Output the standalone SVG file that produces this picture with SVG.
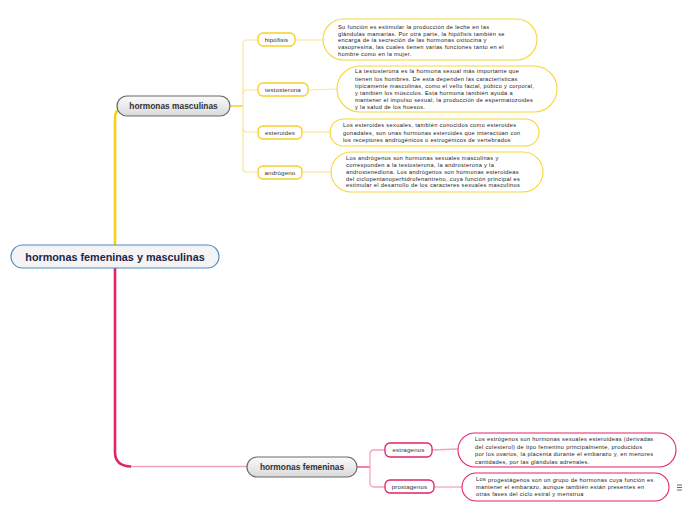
<svg xmlns="http://www.w3.org/2000/svg" width="696" height="520" viewBox="0 0 696 520">
<defs>
<linearGradient id="mainGrad" x1="0" y1="0" x2="0" y2="1">
<stop offset="0" stop-color="#fbfbfb"/>
<stop offset="1" stop-color="#d9d9d9"/>
</linearGradient>
</defs>
<style>
text{font-family:"Liberation Sans",Arial,sans-serif;}
.root{fill:#f5f3f3;stroke:#4a8ecb;stroke-width:1.2;}
.rootT{font-size:10.8px;font-weight:bold;fill:#1b2648;}
.main{fill:url(#mainGrad);stroke:#6a6a6a;stroke-width:1.2;}
.mainT{font-size:8.4px;font-weight:bold;fill:#333;}
.subY{fill:#fff;stroke:#f5d024;stroke-width:1.3;}
.subP{fill:#fff;stroke:#e2236b;stroke-width:1.3;}
.subT{font-size:6.2px;fill:#333;letter-spacing:0.15px;}
.descY{fill:#fff;stroke:#f7d638;stroke-width:1.1;}
.descP{fill:#fff;stroke:#e2236b;stroke-width:1.1;}
.descT{font-size:5.7px;fill:#222;letter-spacing:0.32px;}
.lnY{fill:none;stroke:#f7d117;stroke-width:2.6;}
.lnYs{fill:none;stroke:#f5cf2a;stroke-width:1.5;}
.lnYl{fill:none;stroke:#fbe49a;stroke-width:1.2;}
.lnP{fill:none;stroke:#e2236b;stroke-width:2.6;}
.lnPl{fill:none;stroke:#f4a3be;stroke-width:1.3;}
.lnPs{fill:none;stroke:#e8588c;stroke-width:1.5;}
</style>
<g id="connectors">
<path class="lnY" d="M115,245 V118 Q115,110 122,108"/>
<path class="lnP" d="M115,268 V452 Q115,466 131,466.5"/>
<path class="lnPl" d="M131,466.5 H247"/>
<path class="lnYs" d="M230,106 H243"/>
<path class="lnYl" d="M258,40 H247 Q243,40 243,44 V168 Q243,172 247,172 H258"/>
<path class="lnYl" d="M243,94 Q243,90 247,90 H258"/>
<path class="lnYl" d="M243,128 Q243,132 247,132 H258"/>
<path class="lnYl" d="M295,40 H323"/>
<path class="lnYl" d="M308,90 L337,89"/>
<path class="lnYl" d="M302,132 H330"/>
<path class="lnYl" d="M302,172 H331"/>
<path class="lnPs" d="M357,467 H370"/>
<path class="lnPl" d="M385,450 H374 Q370,450 370,454 V483 Q370,487 374,487 H385"/>
<path class="lnPl" d="M432,450 L458,449"/>
<path class="lnPl" d="M434,487 H462"/>
</g>
<g id="root">
<rect class="root" x="11" y="245" width="208" height="23" rx="11.5"/>
<text class="rootT" x="115" y="260.5" text-anchor="middle">hormonas femeninas y masculinas</text>
</g>
<g id="hormonas-masculinas">
<rect class="main" x="117" y="96" width="113" height="20" rx="10"/>
<text class="mainT" x="173.5" y="109" text-anchor="middle">hormonas masculinas</text>
</g>
<g id="hormonas-femeninas">
<rect class="main" x="247" y="457" width="110" height="20" rx="10"/>
<text class="mainT" x="302" y="470" text-anchor="middle">hormonas femeninas</text>
</g>
<g id="hipofisis">
<rect class="subY" x="258" y="33" width="37" height="13" rx="5"/>
<text class="subT" x="276.5" y="42.2" text-anchor="middle">hipófisis</text>
</g>
<g id="testosterona">
<rect class="subY" x="258" y="83" width="50" height="13" rx="5"/>
<text class="subT" x="283" y="92.2" text-anchor="middle">testosterona</text>
</g>
<g id="esteroides">
<rect class="subY" x="258" y="126" width="44" height="13" rx="5"/>
<text class="subT" x="280" y="135.2" text-anchor="middle">esteroides</text>
</g>
<g id="androgeno">
<rect class="subY" x="258" y="166" width="44" height="13" rx="5"/>
<text class="subT" x="280" y="175.2" text-anchor="middle">andrógeno</text>
</g>
<g id="estragenos">
<rect class="subP" x="385" y="443" width="47" height="14" rx="5"/>
<text class="subT" x="408.5" y="452.4" text-anchor="middle">estragenos</text>
</g>
<g id="prostagenos">
<rect class="subP" x="385" y="480" width="49" height="13" rx="5"/>
<text class="subT" x="409.5" y="489" text-anchor="middle">prostagenos</text>
</g>
<g id="desc-hipofisis">
<rect class="descY" x="323" y="19" width="214" height="41" rx="20.5"/>
<text class="descT" x="338" y="28.8">
<tspan x="338">Su función es estimular la producción de leche en las</tspan>
<tspan x="338" dy="6.8">glándulas mamarias. Por otra parte, la hipófisis también se</tspan>
<tspan x="338" dy="6.8">encarga de la secreción de las hormonas oxitocina y</tspan>
<tspan x="338" dy="6.8">vasopresina, las cuales tienen varias funciones tanto en el</tspan>
<tspan x="338" dy="6.8">hombre como en la mujer.</tspan>
</text>
</g>
<g id="desc-testosterona">
<rect class="descY" x="337" y="66" width="220" height="46" rx="23"/>
<text class="descT" x="355" y="73.4">
<tspan x="355">La testosterona es la hormona sexual más importante que</tspan>
<tspan x="355" dy="7.1">tienen los hombres. De esta dependen las características</tspan>
<tspan x="355" dy="7.1">típicamente masculinas, como el vello facial, púbico y corporal,</tspan>
<tspan x="355" dy="7.1">y también los músculos. Esta hormona también ayuda a</tspan>
<tspan x="355" dy="7.1">mantener el impulso sexual, la producción de espermatozoides</tspan>
<tspan x="355" dy="7.1">y la salud de los huesos.</tspan>
</text>
</g>
<g id="desc-esteroides">
<rect class="descY" x="330" y="119" width="209" height="27" rx="13.5"/>
<text class="descT" x="343" y="127.4">
<tspan x="343">Los esteroides sexuales, también conocidos como esteroides</tspan>
<tspan x="343" dy="7.3">gonadales, son unas hormonas esteroides que interactúan con</tspan>
<tspan x="343" dy="7.3">los receptores androgénicos o estrogénicos de vertebrados</tspan>
</text>
</g>
<g id="desc-androgeno">
<rect class="descY" x="331" y="152" width="212" height="40" rx="20"/>
<text class="descT" x="346" y="160.4">
<tspan x="346">Los andrógenos son hormonas sexuales masculinas y</tspan>
<tspan x="346" dy="6.7">corresponden a la testosterona, la androsterona y la</tspan>
<tspan x="346" dy="6.7">androstenediona. Los andrógenos son hormonas esteroideas</tspan>
<tspan x="346" dy="6.7">del ciclopentanoperhidrofenantreno, cuya función principal es</tspan>
<tspan x="346" dy="6.7">estimular el desarrollo de los caracteres sexuales masculinos</tspan>
</text>
</g>
<g id="desc-estrogenos">
<rect class="descP" x="458" y="433" width="218" height="34" rx="17"/>
<text class="descT" x="475" y="441.4">
<tspan x="475">Los estrógenos son hormonas sexuales esteroideas (derivadas</tspan>
<tspan x="475" dy="7.4">del colesterol) de tipo femenino principalmente, producidos</tspan>
<tspan x="475" dy="7.4">por los ovarios, la placenta durante el embarazo y, en menores</tspan>
<tspan x="475" dy="7.4">cantidades, por las glándulas adrenales.</tspan>
</text>
</g>
<g id="desc-progestagenos">
<rect class="descP" x="462" y="473" width="207" height="28" rx="14"/>
<text class="descT" x="476" y="481.2">
<tspan x="476">Los</tspan><tspan dy="1.2"> progestágenos son un grupo de hormonas cuya función es</tspan>
<tspan x="476" dy="6.1">mantener el embarazo, aunque también están presentes en</tspan>
<tspan x="476" dy="7.3">otras fases del ciclo estral y menstrua</tspan>
</text>
<g id="note-icon" stroke="#555" stroke-width="0.9">
<line x1="677" y1="485" x2="682" y2="485"/>
<line x1="677" y1="487.5" x2="682" y2="487.5"/>
<line x1="677" y1="490" x2="682" y2="490"/>
</g>
</g>
</svg>
